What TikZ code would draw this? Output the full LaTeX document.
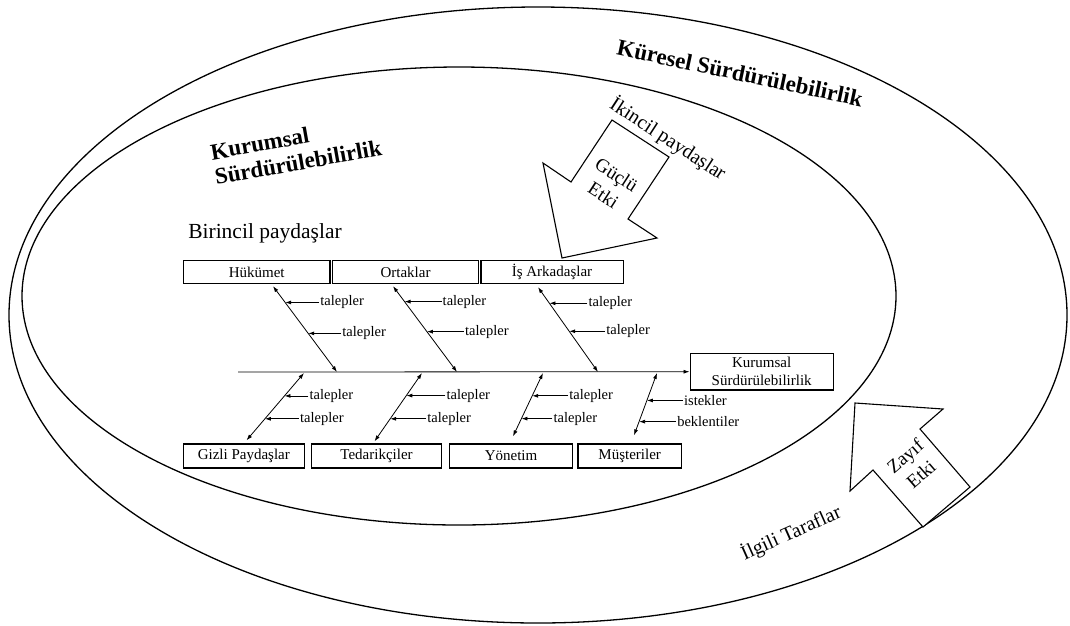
\documentclass[tikz,border=0pt]{standalone}
\usepackage{fontspec}
\setmainfont{Liberation Serif}
\usetikzlibrary{positioning,calc,arrows.meta}
\newcommand{\headfont}{\fontsize{23}{25}\selectfont\bfseries}
\newcommand{\midfont}{\fontsize{20}{22}\selectfont}
\tikzset{
  ring/.style={line width=1.3pt},
  stakebox/.style={draw,line width=1.3pt,inner sep=0pt,minimum height=23pt,
    font=\fontsize{15}{17}\selectfont},
  bone/.style={{Latex[length=6pt,width=4pt]}-{Latex[length=6pt,width=4pt]},line width=0.8pt},
  pointer/.style={-{Latex[length=6pt,width=4pt]},line width=0.8pt},
  need/.style={inner sep=1pt,font=\fontsize{14.5}{16}\selectfont},
  effect/.style={line width=1.1pt,fill=white,line join=miter}
}

\begin{document}
\begin{tikzpicture}[x=1pt,y=-1pt]
	\useasboundingbox (0,0) rectangle (1070,625);

	% the two spheres
	\draw [ring] (538,315) ellipse [x radius=529, y radius=308];
	\draw [ring] (459,296) ellipse [x radius=437, y radius=229];

	\node [font=\headfont,rotate=-12] (global) at (740,73)
		{Küresel Sürdürülebilirlik};
	\node [font=\headfont,rotate=10,align=left] (corporate) at (296,150)
		{Kurumsal\\Sürdürülebilirlik};

	% strong effect of secondary stakeholders
	\draw [effect] (612,120) -- (669,157) -- (628,219) -- (657,238) --
		(562,258) -- (543,163) -- (571,182) -- cycle;
	\node [font=\midfont,rotate=-33] (secondary) at (668,139)
		{İkincil paydaşlar};
	\node [font=\fontsize{19}{24}\selectfont,rotate=-33,align=center] (strong) at (610,185)
		{Güçlü\\Etki};

	% weak effect of related parties
	\draw [effect] (855,403) -- (943,409) -- (920,429) -- (970,487) --
		(923,527) -- (873,470) -- (850,491) -- cycle;
	\node [font=\fontsize{19}{24}\selectfont,rotate=41,align=center] (weak) at (913,465)
		{Zayıf\\Etki};
	\node [font=\midfont,rotate=24] (related) at (791,533)
		{İlgili Taraflar};

	\node [font=\fontsize{21.5}{24}\selectfont] (primary) at (265,233) {Birincil paydaşlar};

	% boxes
	\node [stakebox,minimum width=146.7pt] (hukumet) at (256.7,272) {Hükümet};
	\node [stakebox,minimum width=145.6pt] (ortaklar) at (405.5,272) {Ortaklar};
	\node [stakebox,minimum width=142.3pt] (arkadas) at (552,272) {İş Arkadaşlar};

	\node [stakebox,minimum width=121pt,minimum height=24pt] (gizli) at (243.8,456) {Gizli Paydaşlar};
	\node [stakebox,minimum width=130.5pt,minimum height=24pt] (tedarik) at (376.5,456) {Tedarikçiler};
	\node [stakebox,minimum width=123.5pt,minimum height=24pt] (yonetim) at (511,456) {Yönetim};
	\node [stakebox,minimum width=103.4pt,minimum height=24pt] (musteri) at (629.7,456) {Müşteriler};

	\node [stakebox,minimum width=143pt,minimum height=36.5pt,align=center,
		font=\fontsize{15}{18}\selectfont] (ks) at (761.7,371.7)
		{Kurumsal\\Sürdürülebilirlik};

	% spine
	\coordinate (tail) at (238,372);
	\draw [pointer] (tail) -- (ks.west);

	\coordinate (s1) at (337,372);
	\coordinate (s2) at (457,372);
	\coordinate (s3) at (598,372);
	\coordinate (b1) at (304,373);
	\coordinate (b2) at (422,373);
	\coordinate (b3) at (543,373);
	\coordinate (b4) at (657,373);

	\coordinate (h1) at ([xshift=16.3pt,yshift=-2pt]hukumet.south);
	\coordinate (h2) at ([xshift=-12.5pt,yshift=-2pt]ortaklar.south);
	\coordinate (h3) at ([xshift=-14pt,yshift=-3pt]arkadas.south);
	\coordinate (g1) at ([xshift=2.7pt,yshift=3pt]gizli.north);
	\coordinate (g2) at ([xshift=-2pt,yshift=2pt]tedarik.north);
	\coordinate (g3) at ([xshift=2pt,yshift=7pt]yonetim.north);
	\coordinate (g4) at ([xshift=4.3pt,yshift=8pt]musteri.north);

	\draw [bone] (h1) -- (s1);
	\draw [bone] (h2) -- (s2);
	\draw [bone] (h3) -- (s3);
	\draw [bone] (b1) -- (g1);
	\draw [bone] (b2) -- (g2);
	\draw [bone] (b3) -- (g3);
	\draw [bone] (b4) -- (g4);

	% demands, upper side
	\coordinate (ta1) at ($(h1)!0.19!(s1)$);
	\coordinate (ta2) at ($(h1)!0.55!(s1)$);
	\coordinate (ta3) at ($(h2)!0.18!(s2)$);
	\coordinate (ta4) at ($(h2)!0.53!(s2)$);
	\coordinate (ta5) at ($(h3)!0.19!(s3)$);
	\coordinate (ta6) at ($(h3)!0.52!(s3)$);

	\node [need,right=34pt of ta1] (na1) {talepler};
	\node [need,right=33pt of ta2] (na2) {talepler};
	\node [need,right=37pt of ta3] (na3) {talepler};
	\node [need,right=37pt of ta4] (na4) {talepler};
	\node [need,right=38pt of ta5] (na5) {talepler};
	\node [need,right=36pt of ta6] (na6) {talepler};

	\draw [pointer] (na1.west) -- (ta1);
	\draw [pointer] (na2.west) -- (ta2);
	\draw [pointer] (na3.west) -- (ta3);
	\draw [pointer] (na4.west) -- (ta4);
	\draw [pointer] (na5.west) -- (ta5);
	\draw [pointer] (na6.west) -- (ta6);

	% demands, lower side
	\coordinate (tb1) at ($(b1)!0.34!(g1)$);
	\coordinate (tb2) at ($(b1)!0.68!(g1)$);
	\coordinate (tb3) at ($(b2)!0.33!(g2)$);
	\coordinate (tb4) at ($(b2)!0.67!(g2)$);
	\coordinate (tb5) at ($(b3)!0.36!(g3)$);
	\coordinate (tb6) at ($(b3)!0.72!(g3)$);
	\coordinate (tb7) at ($(b4)!0.44!(g4)$);
	\coordinate (tb8) at ($(b4)!0.78!(g4)$);

	\node [need,right=24pt of tb1] (nb1) {talepler};
	\node [need,right=34pt of tb2] (nb2) {talepler};
	\node [need,right=39pt of tb3] (nb3) {talepler};
	\node [need,right=36pt of tb4] (nb4) {talepler};
	\node [need,right=36pt of tb5] (nb5) {talepler};
	\node [need,right=31pt of tb6] (nb6) {talepler};
	\node [need,right=36pt of tb7] (nb7) {istekler};
	\node [need,right=37pt of tb8] (nb8) {beklentiler};

	\draw [pointer] (nb1.west) -- (tb1);
	\draw [pointer] (nb2.west) -- (tb2);
	\draw [pointer] (nb3.west) -- (tb3);
	\draw [pointer] (nb4.west) -- (tb4);
	\draw [pointer] (nb5.west) -- (tb5);
	\draw [pointer] (nb6.west) -- (tb6);
	\draw [pointer] (nb7.west) -- (tb7);
	\draw [pointer] (nb8.west) -- (tb8);

\end{tikzpicture}
\end{document}
